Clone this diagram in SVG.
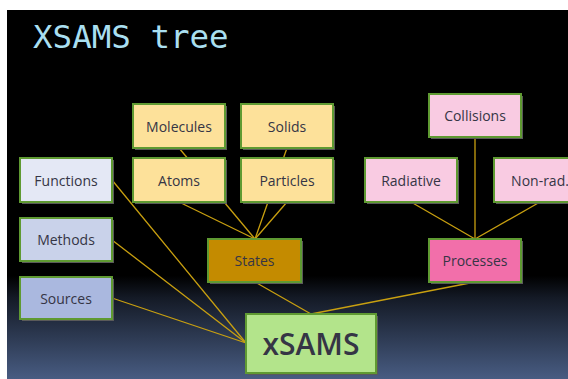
<svg xmlns="http://www.w3.org/2000/svg" width="568" height="379" viewBox="0 0 568 379">
  <defs>
    <linearGradient id="bg" x1="0" y1="0" x2="0" y2="1">
      <stop offset="0" stop-color="#000000"/>
      <stop offset="0.72" stop-color="#000000"/>
      <stop offset="0.78" stop-color="#141a26"/>
      <stop offset="1" stop-color="#485c82"/>
    </linearGradient>
    <style>
      .shadow { fill: #5a5a5a; }
      .box { stroke: #5f9a32; stroke-width: 2; }
      .lbl { font-family: "Open Sans", "DejaVu Sans", sans-serif; font-size: 14px; font-weight: 500; fill: #353545; text-anchor: middle; dominant-baseline: central; }
      .link { stroke: #c9a010; stroke-width: 1.3; fill: none; }
      .state { fill: #fde19a; }
      .proc { fill: #f9cbe2; }
    </style>
  </defs>

  <rect x="0" y="0" width="568" height="379" fill="#ffffff"/>
  <rect x="7" y="10" width="561" height="369" fill="url(#bg)"/>

  <text x="33" y="48" font-family="'DejaVu Sans Mono', monospace" font-size="32.5" fill="#a9dff0">XSAMS tree</text>

  <g id="connectors">
    <line class="link" x1="179" y1="148" x2="255" y2="239"/>
    <line class="link" x1="287" y1="148" x2="255" y2="239"/>
    <line class="link" x1="179" y1="202" x2="255" y2="239"/>
    <line class="link" x1="287" y1="202" x2="255" y2="239"/>
    <line class="link" x1="112" y1="180" x2="246" y2="343"/>
    <line class="link" x1="112" y1="240" x2="246" y2="343"/>
    <line class="link" x1="112" y1="298" x2="246" y2="343"/>
    <line class="link" x1="255" y1="282" x2="311" y2="314"/>
    <line class="link" x1="475" y1="282" x2="311" y2="314"/>
    <line class="link" x1="411" y1="202" x2="475" y2="239"/>
    <line class="link" x1="475" y1="137" x2="475" y2="239"/>
    <line class="link" x1="540" y1="202" x2="475" y2="239"/>
  </g>

  <g id="molecules">
    <rect class="shadow" x="135" y="106" width="92" height="44"/>
    <rect class="box state" x="133" y="104" width="92" height="44"/>
    <text class="lbl" x="179" y="126">Molecules</text>
  </g>
  <g id="solids">
    <rect class="shadow" x="243" y="106" width="92" height="44"/>
    <rect class="box state" x="241" y="104" width="92" height="44"/>
    <text class="lbl" x="287" y="126">Solids</text>
  </g>
  <g id="atoms">
    <rect class="shadow" x="135" y="160" width="92" height="44"/>
    <rect class="box state" x="133" y="158" width="92" height="44"/>
    <text class="lbl" x="179" y="180">Atoms</text>
  </g>
  <g id="particles">
    <rect class="shadow" x="243" y="160" width="92" height="44"/>
    <rect class="box state" x="241" y="158" width="92" height="44"/>
    <text class="lbl" x="287" y="180">Particles</text>
  </g>
  <g id="functions">
    <rect class="shadow" x="22" y="160" width="92" height="44"/>
    <rect class="box" x="20" y="158" width="92" height="44" fill="#e4e8f5"/>
    <text class="lbl" x="66" y="180">Functions</text>
  </g>
  <g id="methods">
    <rect class="shadow" x="22" y="220" width="92" height="43"/>
    <rect class="box" x="20" y="218" width="92" height="43" fill="#c9d2ea"/>
    <text class="lbl" x="66" y="239">Methods</text>
  </g>
  <g id="sources">
    <rect class="shadow" x="22" y="279" width="92" height="42"/>
    <rect class="box" x="20" y="277" width="92" height="42" fill="#aab8df"/>
    <text class="lbl" x="66" y="298">Sources</text>
  </g>
  <g id="states">
    <rect class="shadow" x="210" y="241" width="93" height="43"/>
    <rect class="box" x="208" y="239" width="93" height="43" fill="#c48b00"/>
    <text class="lbl" x="254.5" y="260.5">States</text>
  </g>
  <g id="collisions">
    <rect class="shadow" x="431" y="96" width="92" height="43"/>
    <rect class="box proc" x="429" y="94" width="92" height="43"/>
    <text class="lbl" x="475" y="115.5">Collisions</text>
  </g>
  <g id="radiative">
    <rect class="shadow" x="367" y="160" width="92" height="44"/>
    <rect class="box proc" x="365" y="158" width="92" height="44"/>
    <text class="lbl" x="411" y="180">Radiative</text>
  </g>
  <g id="non-rad">
    <rect class="shadow" x="496" y="160" width="92" height="44"/>
    <rect class="box proc" x="494" y="158" width="92" height="44"/>
    <text class="lbl" x="540" y="180">Non-rad.</text>
  </g>
  <g id="processes">
    <rect class="shadow" x="431" y="241" width="92" height="43"/>
    <rect class="box" x="429" y="239" width="92" height="43" fill="#f26faa"/>
    <text class="lbl" x="475" y="260.5">Processes</text>
  </g>
  <g id="xsams">
    <rect class="shadow" x="248" y="316" width="130" height="59"/>
    <rect class="box" x="246" y="314" width="130" height="59" fill="#b3e48b"/>
    <text class="lbl" x="311" y="343.5" style="font-size:30px;font-weight:600">xSAMS</text>
  </g>
</svg>
